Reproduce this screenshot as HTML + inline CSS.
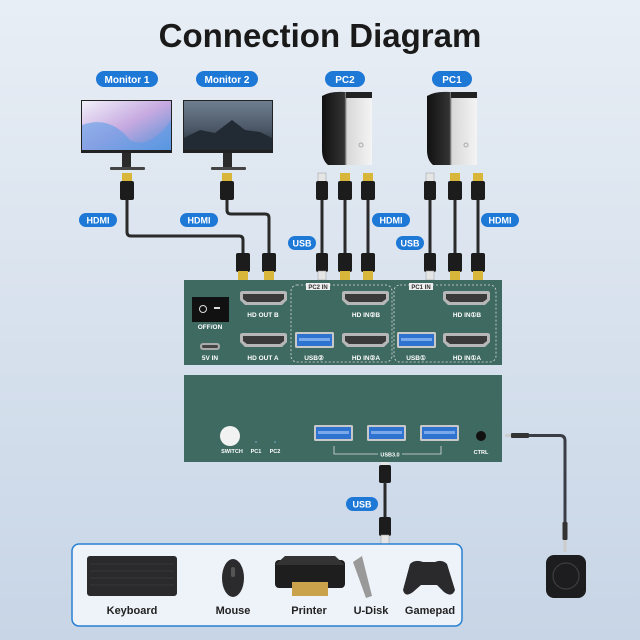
<!DOCTYPE html>
<html><head><meta charset="utf-8"><style>
html,body{margin:0;padding:0;background:#c9d7e7;}
body{width:640px;height:640px;overflow:hidden;font-family:"Liberation Sans",sans-serif;}
svg{display:block;}
svg text{font-family:"Liberation Sans",sans-serif;}
</style></head><body>
<svg width="640" height="640" viewBox="0 0 640 640" xmlns="http://www.w3.org/2000/svg">
<defs>
<linearGradient id="bg" x1="0" y1="0" x2="0" y2="1"><stop offset="0" stop-color="#e8eef5"/><stop offset="1" stop-color="#c7d5e6"/></linearGradient>
<linearGradient id="scr1" x1="0" y1="0" x2="1" y2="1"><stop offset="0" stop-color="#f2f0fa"/><stop offset="0.5" stop-color="#c6a9e0"/><stop offset="1" stop-color="#4f8fd8"/></linearGradient>
<linearGradient id="scr2" x1="0" y1="0" x2="0" y2="1"><stop offset="0" stop-color="#6f7f90"/><stop offset="0.6" stop-color="#4a5564"/><stop offset="1" stop-color="#1e2630"/></linearGradient>
<linearGradient id="pc" x1="0" y1="0" x2="1" y2="0"><stop offset="0" stop-color="#111"/><stop offset="0.45" stop-color="#333"/><stop offset="0.5" stop-color="#d8d8d8"/><stop offset="1" stop-color="#f4f4f4"/></linearGradient>
<g id="hdmiTop"><rect x="-5" y="0" width="10" height="9" fill="#d8b63a"/><rect x="-7" y="8" width="14" height="19" rx="2" fill="#1c1c1c"/></g>
<g id="hdmiBot"><rect x="-7" y="0" width="14" height="19" rx="2" fill="#1c1c1c"/><rect x="-5" y="18" width="10" height="9" fill="#d8b63a"/></g>
<g id="usbTop"><rect x="-4" y="0" width="8" height="9" fill="#e5e5e5" stroke="#999" stroke-width="0.5"/><rect x="-6" y="8" width="12" height="19" rx="2" fill="#1c1c1c"/></g>
<g id="usbBot"><rect x="-6" y="0" width="12" height="19" rx="2" fill="#1c1c1c"/><rect x="-4" y="18" width="8" height="9" fill="#e5e5e5" stroke="#999" stroke-width="0.5"/></g>
<g id="hport"><path d="M0,2 Q0,0 3,0 H44 Q47,0 47,2 V9 L42,14 H5 L0,9Z" fill="#b7b7b7"/><path d="M3,3 H44 V8 L40,11 H7 L3,8Z" fill="#3a3a3a"/></g>
<g id="uport"><rect x="0" y="0" width="39" height="16" rx="1.5" fill="#c8c8c8"/><rect x="2" y="2" width="35" height="12" fill="#2f73d0"/><rect x="4" y="6" width="31" height="3" fill="#79a9ea"/></g>
</defs>
<rect width="640" height="640" fill="url(#bg)"/>
<text x="320" y="47" text-anchor="middle" font-size="33" font-weight="bold" fill="#1a1a1a">Connection Diagram</text>

<g font-size="10" font-weight="bold" fill="#fff" text-anchor="middle">
<rect x="96" y="71" width="62" height="16" rx="8" fill="#1e78d6"/><text x="127" y="83">Monitor 1</text>
<rect x="196" y="71" width="62" height="16" rx="8" fill="#1e78d6"/><text x="227" y="83">Monitor 2</text>
<rect x="325" y="71" width="40" height="16" rx="8" fill="#1e78d6"/><text x="345" y="83">PC2</text>
<rect x="432" y="71" width="40" height="16" rx="8" fill="#1e78d6"/><text x="452" y="83">PC1</text>
</g>

<rect x="81" y="100" width="91" height="53" fill="#222"/><rect x="82" y="101" width="89" height="49" fill="url(#scr1)"/>
<path d="M82,125 Q110,115 130,140 Q150,150 171,120 V150 H82Z" fill="#5c9de6" opacity="0.6"/>
<rect x="122" y="153" width="9" height="15" fill="#2a2a2a"/><rect x="110" y="167" width="35" height="3" rx="1" fill="#444"/>
<rect x="183" y="100" width="90" height="53" fill="#222"/><rect x="184" y="101" width="88" height="49" fill="url(#scr2)"/>
<path d="M184,138 L200,130 L215,133 L232,120 L245,130 L260,132 L272,138 V150 H184Z" fill="#222a33"/>
<rect x="223" y="153" width="9" height="15" fill="#2a2a2a"/><rect x="211" y="167" width="35" height="3" rx="1" fill="#444"/>

<g><path d="M322,96 Q330,91 345,92 H372 V165 H328 Q322,160 322,150Z" fill="url(#pc)"/><rect x="346" y="92" width="26" height="6" fill="#222"/><circle cx="361" cy="145" r="2" fill="none" stroke="#aaa"/></g>
<g><path d="M427,96 Q435,91 450,92 H477 V165 H433 Q427,160 427,150Z" fill="url(#pc)"/><rect x="451" y="92" width="26" height="6" fill="#222"/><circle cx="466" cy="145" r="2" fill="none" stroke="#aaa"/></g>

<g fill="none" stroke="#2a2a2a" stroke-width="3" stroke-linejoin="round">
<path d="M127,198 V232 Q127,236 131,236 H239 Q243,236 243,240 V255"/>
<path d="M227,198 V210 Q227,214 231,214 H265 Q269,214 269,218 V255"/>
<path d="M322,198 V255"/><path d="M345,198 V255"/><path d="M368,198 V255"/>
<path d="M430,198 V255"/><path d="M455,198 V255"/><path d="M478,198 V255"/>
</g>
<use href="#hdmiTop" x="127" y="173"/><use href="#hdmiTop" x="227" y="173"/>
<use href="#usbTop" x="322" y="173"/><use href="#hdmiTop" x="345" y="173"/><use href="#hdmiTop" x="368" y="173"/>
<use href="#usbTop" x="430" y="173"/><use href="#hdmiTop" x="455" y="173"/><use href="#hdmiTop" x="478" y="173"/>
<use href="#hdmiBot" x="243" y="253"/><use href="#hdmiBot" x="269" y="253"/>
<use href="#usbBot" x="322" y="253"/><use href="#hdmiBot" x="345" y="253"/><use href="#hdmiBot" x="368" y="253"/>
<use href="#usbBot" x="430" y="253"/><use href="#hdmiBot" x="455" y="253"/><use href="#hdmiBot" x="478" y="253"/>

<g font-size="9" font-weight="bold" fill="#fff" text-anchor="middle">
<rect x="79" y="213" width="38" height="14" rx="7" fill="#1e78d6"/><text x="98" y="223.5">HDMI</text>
<rect x="180" y="213" width="38" height="14" rx="7" fill="#1e78d6"/><text x="199" y="223.5">HDMI</text>
<rect x="372" y="213" width="38" height="14" rx="7" fill="#1e78d6"/><text x="391" y="223.5">HDMI</text>
<rect x="481" y="213" width="38" height="14" rx="7" fill="#1e78d6"/><text x="500" y="223.5">HDMI</text>
<rect x="288" y="236" width="28" height="14" rx="7" fill="#1e78d6"/><text x="302" y="246.5">USB</text>
<rect x="396" y="236" width="28" height="14" rx="7" fill="#1e78d6"/><text x="410" y="246.5">USB</text>
<rect x="346" y="497" width="32" height="14" rx="7" fill="#1e78d6"/><text x="362" y="507.5">USB</text>
</g>

<rect x="184" y="280" width="318" height="85" fill="#3e6a62"/>
<rect x="192" y="297" width="37" height="25" fill="#111"/><circle cx="203" cy="309" r="3.5" fill="none" stroke="#ddd" stroke-width="1"/><rect x="214" y="307" width="6" height="2" fill="#ddd"/>
<g font-size="6.5" font-weight="bold" fill="#fff" text-anchor="middle">
<text x="210" y="329">OFF/ON</text>
<rect x="200" y="343" width="20" height="7" rx="3" fill="#aaa"/><rect x="202" y="345" width="16" height="3" rx="1.5" fill="#444"/>
<text x="210" y="360">5V IN</text>
<use href="#hport" x="240" y="291"/><text x="263" y="317">HD OUT B</text>
<use href="#hport" x="240" y="333"/><text x="263" y="360">HD OUT A</text>
<rect x="291" y="285" width="101" height="77" rx="6" fill="none" stroke="#ddd" stroke-width="0.8" stroke-dasharray="2,2"/>
<rect x="306" y="283" width="24" height="7" fill="#eee"/><text x="318" y="289" fill="#333" font-size="6">PC2 IN</text>
<use href="#hport" x="342" y="291"/><text x="366" y="317">HD IN②B</text>
<use href="#uport" x="295" y="332"/><text x="314" y="360">USB②</text>
<use href="#hport" x="342" y="333"/><text x="366" y="360">HD IN②A</text>
<rect x="394" y="285" width="102" height="77" rx="6" fill="none" stroke="#ddd" stroke-width="0.8" stroke-dasharray="2,2"/>
<rect x="409" y="283" width="24" height="7" fill="#eee"/><text x="421" y="289" fill="#333" font-size="6">PC1 IN</text>
<use href="#hport" x="443" y="291"/><text x="467" y="317">HD IN①B</text>
<use href="#uport" x="397" y="332"/><text x="416" y="360">USB①</text>
<use href="#hport" x="443" y="333"/><text x="467" y="360">HD IN①A</text>
</g>

<rect x="184" y="375" width="318" height="87" fill="#3e6a62"/>
<g font-size="5.5" font-weight="bold" fill="#fff" text-anchor="middle">
<circle cx="230" cy="436" r="10" fill="#f2f2f2"/><text x="232" y="453">SWITCH</text>
<circle cx="256" cy="442" r="0.9" fill="#6ab"/><text x="256" y="453">PC1</text>
<circle cx="275" cy="442" r="0.9" fill="#6ab"/><text x="275" y="453">PC2</text>
<use href="#uport" x="314" y="425"/><use href="#uport" x="367" y="425"/><use href="#uport" x="420" y="425"/>
<path d="M334,446 V454 H441 V446" fill="none" stroke="#ddd" stroke-width="0.8"/>
<rect x="378" y="451" width="24" height="6" fill="#3e6a62"/><text x="390" y="456.5">USB3.0</text>
<circle cx="481" cy="436" r="5" fill="#111"/><text x="481" y="454">CTRL</text>
</g>

<rect x="381" y="462" width="8" height="4" fill="#e5e5e5"/>
<rect x="379" y="465" width="12" height="18" rx="2" fill="#1c1c1c"/>
<path d="M385,482 V520" stroke="#2a2a2a" stroke-width="3" fill="none"/>
<use href="#usbBot" x="385" y="517"/>

<rect x="505" y="434" width="6" height="3" fill="#ccc"/><rect x="511" y="433" width="18" height="5" rx="1" fill="#333"/>
<path d="M529,435.5 H560 Q565,435.5 565,441 V525" stroke="#3a3d45" stroke-width="3" fill="none"/>
<rect x="562.5" y="522" width="5" height="18" rx="1" fill="#333"/><rect x="563.5" y="540" width="3" height="12" fill="#ccc"/>
<rect x="546" y="555" width="40" height="43" rx="8" fill="#1d1d1f"/><circle cx="566" cy="576" r="13" fill="none" stroke="#444" stroke-width="1"/>

<rect x="72" y="544" width="390" height="82" rx="7" fill="#eef3f9" stroke="#2a80d2" stroke-width="1.5"/>
<rect x="87" y="556" width="90" height="40" rx="3" fill="#2a2a2c"/>
<g stroke="#444" stroke-width="0.6"><path d="M90,564H174M90,571H174M90,578H174M90,585H174"/></g>
<ellipse cx="233" cy="578" rx="11" ry="19" fill="#2b2b2d"/><rect x="231" y="567" width="4" height="10" rx="2" fill="#555"/>
<rect x="275" y="560" width="70" height="28" rx="4" fill="#1e1e1e"/><path d="M285,556 H335 L345,565 H275Z" fill="#333"/>
<rect x="292" y="582" width="36" height="14" fill="#c9a24b"/>
<path d="M353,562 L362,556 L372,596 L366,598Z" fill="#999"/>
<path d="M410,564 Q415,559 423,562 H435 Q442,559 447,564 L455,590 Q452,598 444,592 L437,585 H421 L413,592 Q405,598 403,590Z" fill="#2a2a2c"/>
<g font-size="11" font-weight="bold" fill="#222" text-anchor="middle">
<text x="132" y="614">Keyboard</text><text x="233" y="614">Mouse</text><text x="309" y="614">Printer</text><text x="371" y="614">U-Disk</text><text x="430" y="614">Gamepad</text>
</g>
</svg>
</body></html>
